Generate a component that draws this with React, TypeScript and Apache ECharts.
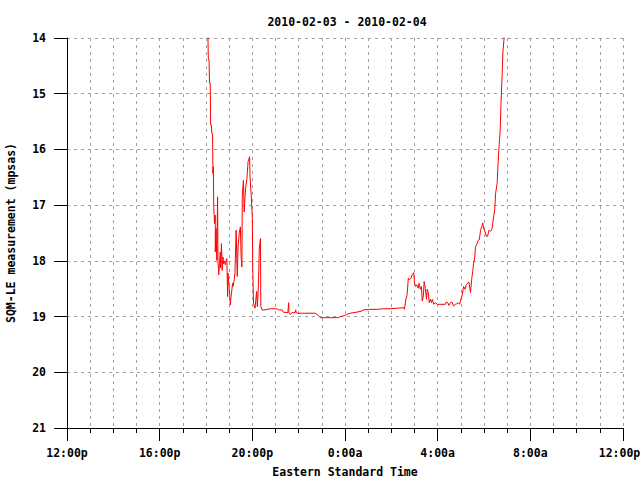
import React, { useEffect, useRef } from "react";
import * as echarts from "echarts";

const chartTitle = "2010-02-03 - 2010-02-04";
const xAxisName = "Eastern Standard Time";
const yAxisName = "SQM-LE measurement (mpsas)";
const xTickLabels = ["12:00p", "16:00p", "20:00p", "0:00a", "4:00a", "8:00a", "12:00p"];

// minutes after 12:00 noon on 2010-02-03
const minutesAfterNoon = [
  364, 366, 368, 369, 371, 372, 374, 375, 377, 378, 379, 380, 382, 384, 384, 386, 388, 390, 391, 393,
  395, 397, 398, 400, 402, 404, 405, 407, 410, 412, 414, 416, 417, 421, 423, 425, 429, 430, 433, 435,
  438, 441, 443, 446, 449, 451, 453, 454, 457, 459, 461, 463, 466, 469, 473, 474, 477, 480, 481, 483,
  487, 491, 493, 496, 498, 501, 502, 505, 513, 526, 544, 547, 557, 560, 572, 574, 575, 578, 583, 591,
  592, 594, 596, 643, 651, 656, 702, 708, 721, 725, 734, 741, 751, 764, 767, 785, 803, 819, 837, 855,
  872, 874, 877, 881, 884, 887, 891, 894, 898, 900, 903, 906, 910, 912, 915, 918, 920, 923, 925, 928,
  931, 933, 936, 938, 941, 944, 946, 950, 954, 959, 980, 982, 986, 989, 993, 997, 1001, 1006, 1010, 1013,
  1017, 1020, 1024, 1027, 1031, 1034, 1038, 1041, 1045, 1048, 1051, 1053, 1056, 1058, 1062, 1065, 1068, 1071, 1074, 1077,
  1079, 1083, 1086, 1089, 1093, 1096, 1100, 1102, 1105, 1108, 1110, 1114, 1116, 1119, 1122, 1124, 1127, 1129, 1132, 1135,
];

// sky brightness, mag/arcsec^2
const sqmValues = [
  13.5, 14.39, 14.39, 14.81, 14.81, 15.56, 15.56, 15.71, 15.71, 16.43, 16.31, 17.0, 17.33, 17.18, 17.84, 17.42, 17.99, 16.85, 18.0, 18.25,
  18.05, 17.84, 18.13, 17.69, 18.17, 17.93, 18.05, 18.0, 18.07, 17.99, 17.96, 18.64, 18.22, 18.58, 18.79, 18.64, 18.4, 18.46, 18.34, 18.22,
  17.45, 18.28, 17.75, 17.51, 17.39, 17.93, 18.11, 16.82, 16.55, 17.12, 16.85, 16.67, 16.52, 16.22, 16.13, 16.49, 16.82, 17.24, 18.13, 18.76,
  18.85, 18.55, 18.82, 18.4, 17.78, 17.6, 18.82, 18.88, 18.88, 18.86, 18.86, 18.88, 18.88, 18.92, 18.93, 18.75, 18.93, 18.96, 18.93, 18.93,
  18.88, 18.93, 18.94, 18.94, 18.98, 19.02, 19.02, 19.0, 18.98, 18.96, 18.94, 18.93, 18.92, 18.9, 18.88, 18.87, 18.87, 18.86, 18.86, 18.85,
  18.84, 18.87, 18.72, 18.6, 18.31, 18.34, 18.31, 18.25, 18.21, 18.4, 18.46, 18.43, 18.49, 18.4, 18.51, 18.46, 18.72, 18.63, 18.37, 18.49,
  18.69, 18.51, 18.57, 18.75, 18.69, 18.75, 18.69, 18.78, 18.75, 18.78, 18.78, 18.74, 18.75, 18.8, 18.75, 18.74, 18.81, 18.78, 18.77, 18.75,
  18.78, 18.69, 18.6, 18.46, 18.51, 18.43, 18.4, 18.38, 18.57, 18.34, 18.17, 18.05, 17.93, 17.75, 17.69, 17.63, 17.62, 17.45, 17.39, 17.32,
  17.42, 17.48, 17.56, 17.56, 17.45, 17.47, 17.45, 17.36, 17.21, 17.06, 16.79, 16.61, 16.31, 15.95, 15.65, 15.17, 14.66, 14.25, 14.01, 13.6,
];

const FONT = "DejaVu Sans Mono";
const gridLine = { show: true, lineStyle: { color: "#a0a0a0", width: 1, type: [3, 4] as any } };

export default function App() {
  const ref = useRef<HTMLDivElement>(null);
  useEffect(() => {
    if (!ref.current) return;
    const chart = echarts.init(ref.current, undefined, { renderer: "svg" });
    const data = minutesAfterNoon.map((m, i) => [m, sqmValues[i]]);
    const lastIdx = xTickLabels.length - 1;
    chart.setOption({
      animation: false,
      backgroundColor: "#ffffff",
      textStyle: { fontFamily: FONT },
      title: {
        text: chartTitle,
        left: 342,
        top: 11,
        textAlign: "center",
        textStyle: { fontFamily: FONT, fontSize: 11.5, fontWeight: "bold", color: "#000" },
      },
      grid: { left: 67, right: 17, top: 38, bottom: 52, containLabel: false, outerBoundsMode: "none" },
      xAxis: {
        type: "value",
        min: 0,
        max: 1440,
        interval: 240,
        name: xAxisName,
        nameLocation: "middle",
        nameGap: 38,
        nameTextStyle: { fontFamily: FONT, fontSize: 11.5, fontWeight: "bold", color: "#000" },
        axisLine: { show: true, onZero: false, lineStyle: { color: "#000", width: 1 } },
        axisTick: { show: true, length: 13, lineStyle: { color: "#000" } },
        minorTick: { show: true, splitNumber: 4, length: 5, lineStyle: { color: "#000" } },
        splitLine: gridLine,
        minorSplitLine: gridLine,
        axisLabel: {
          margin: 19,
          fontFamily: FONT,
          fontSize: 11.5,
          fontWeight: "bold",
          color: "#000",
          formatter: (v: number) => {
            const i = Math.round(v / 240);
            const s = xTickLabels[i] ?? "";
            return i === lastIdx ? `{last|${s}}` : s;
          },
          rich: {
            last: {
              fontFamily: FONT,
              fontSize: 11.5,
              fontWeight: "bold",
              color: "#000",
              padding: [0, 7, 0, 0],
            },
          },
        },
      },
      yAxis: {
        type: "value",
        inverse: true,
        min: 14,
        max: 21,
        interval: 1,
        name: yAxisName,
        nameLocation: "middle",
        nameGap: 50,
        nameRotate: 90,
        nameTextStyle: { fontFamily: FONT, fontSize: 11.5, fontWeight: "bold", color: "#000" },
        axisLine: { show: true, onZero: false, lineStyle: { color: "#000", width: 1 } },
        axisTick: { show: true, length: 13, lineStyle: { color: "#000" } },
        splitLine: gridLine,
        axisLabel: {
          margin: 21,
          fontFamily: FONT,
          fontSize: 11.5,
          fontWeight: "bold",
          color: "#000",
        },
      },
      series: [
        {
          type: "line",
          data,
          showSymbol: false,
          symbol: "none",
          clip: true,
          lineStyle: { color: "#ff0000", width: 1 },
        },
      ],
    });
    return () => chart.dispose();
  }, []);
  return (
    <div
      ref={ref}
      style={{ position: "fixed", left: 0, top: 0, width: 640, height: 480, background: "#fff" }}
    />
  );
}
